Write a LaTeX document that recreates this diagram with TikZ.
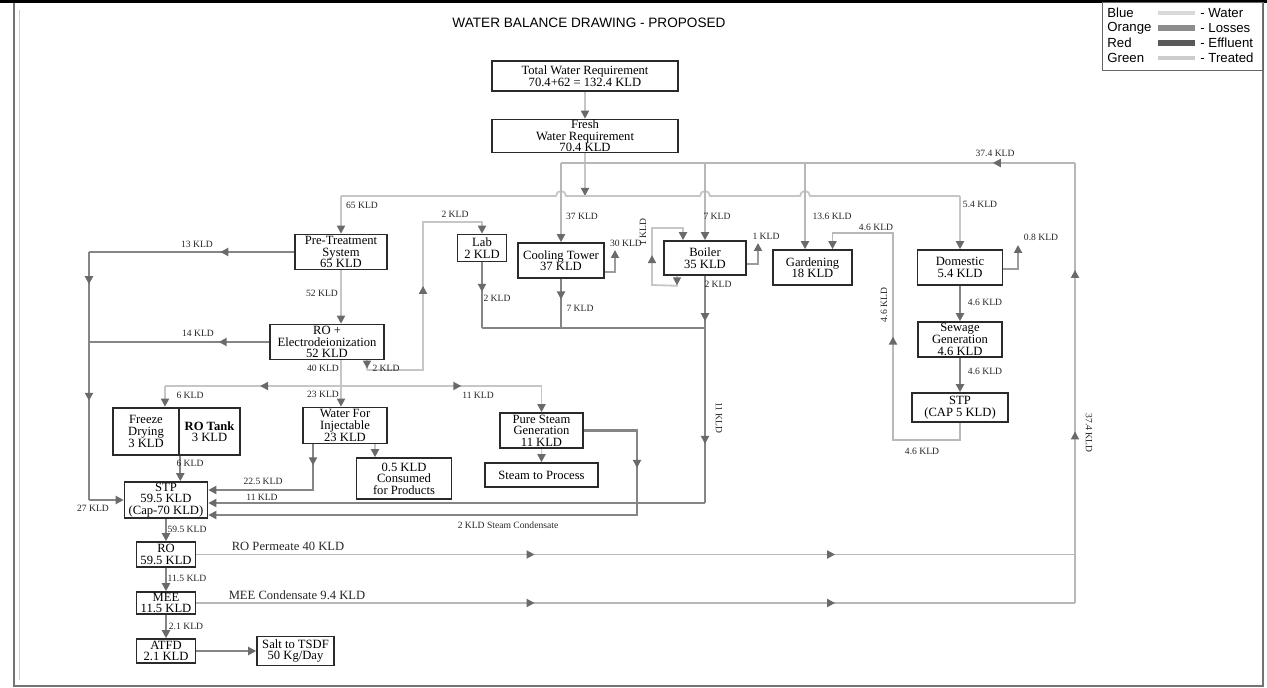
\documentclass[tikz,border=0pt]{standalone}
\usepackage{fontspec}
\setmainfont{Liberation Serif}
\setsansfont{Liberation Sans}
\usetikzlibrary{arrows.meta,decorations.markings,calc}
\definecolor{watc}{HTML}{C6C6C6}
\definecolor{trtc}{HTML}{B8B8B8}
\definecolor{effc}{HTML}{858585}
\definecolor{losc}{HTML}{9C9C9C}
\definecolor{arrc}{HTML}{6A6A6A}
\definecolor{boxc}{HTML}{2A2A2A}
\tikzset{
 box/.style={draw=boxc,line width=0.8pt,inner sep=0pt,align=center,fill=white,font=\fontsize{6.3}{5.8}\selectfont},
 lbl/.style={font=\fontsize{4.8}{5}\selectfont,inner sep=0.5pt,text=black!85},
 biglbl/.style={font=\fontsize{6.3}{6}\selectfont,inner sep=0.5pt,text=black!85},
 legt/.style={font=\sffamily\fontsize{6.6}{7}\selectfont,inner sep=0pt,anchor=west},
 wline/.style={draw=watc,line width=0.9pt},
 tline/.style={draw=trtc,line width=0.9pt},
 eline/.style={draw=effc,line width=1.1pt},
 lline/.style={draw=losc,line width=0.9pt},
 tip/.style={->},
 mk/.style={postaction={decorate,decoration={markings,mark=at position #1 with {\arrow{>}}}}},
}
\begin{document}
\begin{tikzpicture}[x=0.5pt,y=-0.5pt,>={Triangle[length=4pt,width=4pt,color=arrc]}]
\useasboundingbox (0,0) rectangle (1267,688);
% frame
\draw[black!55,line width=0.6pt] (14,2) -- (14,686) -- (1263,686) -- (1263,2);
\draw[black!20,line width=0.4pt] (19,10) -- (19,680);
\draw[black,line width=1.6pt] (0,1) -- (1267,1);

% title
\node[font=\sffamily\fontsize{6.8}{7}\selectfont,inner sep=0pt] (title) at (589,23) {WATER BALANCE DRAWING - PROPOSED};

% legend
\node[draw=black!60,line width=0.4pt,minimum width=80.5pt,minimum height=34pt,inner sep=0pt] (leg) at (1182.5,36) {};
\node[legt] (lg1) at (1107,13) {Blue};
\node[legt] (lg2) at (1107,28) {Orange};
\node[legt] (lg3) at (1107,43) {Red};
\node[legt] (lg4) at (1107,58) {Green};
\node[legt] (lr1) at (1200,13) {- Water};
\node[legt] (lr2) at (1200,28) {- Losses};
\node[legt] (lr3) at (1200,43) {- Effluent};
\node[legt] (lr4) at (1200,58) {- Treated};
\draw[line width=2.2pt,draw=black!15] (lg1.east -| 1158,0) -- (lg1.east -| 1195,0);
\draw[line width=2.6pt,draw=black!45] (lg2.east -| 1158,0) -- (lg2.east -| 1195,0);
\draw[line width=2.6pt,draw=black!65] (lg3.east -| 1158,0) -- (lg3.east -| 1195,0);
\draw[line width=2.2pt,draw=black!20] (lg4.east -| 1158,0) -- (lg4.east -| 1195,0);

% boxes
\node[box,minimum width=93pt,minimum height=15pt] (total) at (585,76) {Total Water Requirement\\70.4+62 = 132.4 KLD};
\node[box,minimum width=93pt,minimum height=16.5pt] (fresh) at (585,136) {Fresh\\Water Requirement\\70.4 KLD};
\node[box,minimum width=46pt,minimum height=17.5pt] (pre) at (341,252) {Pre-Treatment\\System\\65 KLD};
\node[box,minimum width=57pt,minimum height=17.5pt] (ro) at (327,342) {RO +\\Electrodeionization\\52 KLD};
\node[box,minimum width=24.5pt,minimum height=13.5pt] (lab) at (482,248) {Lab\\2 KLD};
\node[box,minimum width=43pt,minimum height=17.5pt] (ct) at (561,260.5) {Cooling Tower\\37 KLD};
\node[box,minimum width=41pt,minimum height=17pt] (boiler) at (705,258) {Boiler\\35 KLD};
\node[box,minimum width=39.5pt,minimum height=17.5pt] (gard) at (812.5,267.5) {Gardening\\18 KLD};
\node[box,minimum width=42.5pt,minimum height=17.5pt] (dom) at (960,267.5) {Domestic\\5.4 KLD};
\node[box,minimum width=42pt,minimum height=17.5pt] (sew) at (960,339.5) {Sewage\\Generation\\4.6 KLD};
\node[box,minimum width=48pt,minimum height=14.5pt] (stpf) at (960,407.5) {STP\\(CAP 5 KLD)};
\node[box,line width=1.3pt,minimum width=33pt,minimum height=23.5pt] (freeze) at (146,431.5) {Freeze\\Drying\\3 KLD};
\node[box,line width=1.3pt,minimum width=30.5pt,minimum height=23.5pt] (rotank) at (209.5,431.5) {\textbf{RO Tank}\\3 KLD};
\node[box,minimum width=42pt,minimum height=18pt] (wfi) at (345,425.5) {Water For\\Injectable\\23 KLD};
\node[box,minimum width=47.5pt,minimum height=20.5pt] (cons) at (404,478.5) {0.5 KLD\\Consumed\\for Products};
\node[box,minimum width=41.5pt,minimum height=17.5pt] (pure) at (541.5,430.5) {Pure Steam\\Generation\\11 KLD};
\node[box,minimum width=56.5pt,minimum height=12pt] (steam) at (541.5,475) {Steam to Process};
\node[box,minimum width=41.5pt,minimum height=18pt] (stp) at (166,500) {STP\\59.5 KLD\\(Cap-70 KLD)};
\node[box,minimum width=29.5pt,minimum height=12.5pt] (rob) at (166,554.5) {RO\\59.5 KLD};
\node[box,minimum width=29.5pt,minimum height=11pt] (mee) at (166,603) {MEE\\11.5 KLD};
\node[box,minimum width=29.5pt,minimum height=12pt] (atfd) at (166,651) {ATFD\\2.1 KLD};
\node[box,minimum width=38.5pt,minimum height=14.5pt] (salt) at (295.5,651) {Salt to TSDF\\50 Kg/Day};

% coordinates
\coordinate (rt) at (1075,163);
\coordinate (rb) at (1075,603);
\coordinate (rm) at (1075,554.5);
\coordinate (r0) at (561,163);
\coordinate (fj) at (585,196);
\coordinate (d0) at (341,196);
\coordinate (d1) at (960,196);
\coordinate (gv) at ($(gard.north)+(-7.5,0)$);
\coordinate (eL) at (89,252);
\coordinate (eLb) at (89,500);
\coordinate (sp) at (341,386);
\coordinate (spL) at (165,386);
\coordinate (spR) at (541.5,386);
\coordinate (lf1) at (367,370);
\coordinate (lf2) at (423,370);
\coordinate (lf3) at (423,222);
\coordinate (c1) at (482,328);
\coordinate (c2) at (705,328);
\coordinate (etp) at (705,503);
\coordinate (w1) at (313,490);
\coordinate (cv) at ($(wfi.south)+(30,0)$);
\coordinate (pc1) at (637,430.5);
\coordinate (pc2) at (637,515);
\coordinate (g1) at (960,440);
\coordinate (g2) at (893,440);
\coordinate (g3) at (893,233);
\coordinate (gin) at ($(gard.north)+(20,0)$);
\coordinate (bl0) at ($(boiler.south)+(-28,0)$);
\coordinate (bl1) at ($(bl0)+(0,10)$);
\coordinate (bl2) at (652,285);
\coordinate (bl3) at (652,228);
\coordinate (bl4) at ($(boiler.north)+(-22,0)$);
\coordinate (ctl) at ($(ct.south east)+(0,-7)$);
\coordinate (ctlo) at (615,250);
\coordinate (bll) at ($(boiler.south east)+(0,-12)$);
\coordinate (bllo) at (758,243);
\coordinate (dl) at ($(dom.south east)+(0,-17)$);
\coordinate (dlo) at (1018,245);

% fresh water
\draw[wline,tip] (total) -- (fresh);
\draw[wline,tip] (fresh) -- (fj);
% distribution line with hops
\draw[wline] (d0) -- (556,196) arc[start angle=180,end angle=360,radius=5] -- (700,196) arc[start angle=180,end angle=360,radius=5] -- ($(gv |- d0)+(-5,0)$) arc[start angle=180,end angle=360,radius=5] -- (d1);
\draw[wline,tip] (d0) -- (pre.north);
\draw[wline,tip] (d1) -- (dom.north);
% treated return
\draw[tline,mk=0.16] (rt) -- (r0);
\draw[tline,tip] (r0) -- (ct.north);
\draw[tline,tip] (boiler.north |- rt) -- (boiler.north);
\draw[tline,tip] (gv |- rt) -- (gv);
\draw[tline,mk=0.385,mk=0.727] (rob.east) -- (rm);
\draw[tline,mk=0.385,mk=0.727] (mee.east) -- (rb);
\draw[tline,mk=0.39,mk=0.757] (rb) -- (rt);
% treated STP to gardening
\draw[tline,mk=0.51,tip] (stpf.south) -- (g1) -- (g2) -- (g3) -- (gin |- g3) -- (gin);
% pre-treatment
\draw[eline,mk=0.36] (pre.west) -- (eL);
\draw[eline,mk=0.13,mk=0.6] (eL) -- (eLb);
\draw[eline,tip] (eLb) -- (stp.west);
\draw[eline,mk=0.28] (ro.west) -- (ro.west -| eL);
\draw[wline,tip] (pre.south) -- (pre.south |- ro.north);
% RO outputs
\draw[wline] (ro.south -| sp) -- (sp);
\draw[wline,tip] (sp) -- (sp |- wfi.north);
\draw[wline,mk=0.46] (sp) -- (spL);
\draw[wline,tip] (spL) -- (spL |- freeze.north);
\draw[wline,mk=0.6] (sp) -- (spR);
\draw[wline,tip] (spR) -- (pure.north);
% lab feed
\draw[wline,mk=0.85] (ro.south -| lf1) -- (lf1);
\draw[wline,mk=0.51,tip] (lf1) -- (lf2) -- (lf3) -- (lab.north |- lf3) -- (lab.north);
% lab, cooling tower, boiler effluent
\draw[eline,mk=0.45] (lab.south) -- (c1);
\draw[eline,mk=0.42] (ct.south) -- (ct.south |- c1);
\draw[eline] (c1) -- (c2);
\draw[eline,mk=0.2,mk=0.74] (boiler.south) -- (etp);
\draw[eline,tip] (etp) -- (etp -| stp.east);
% boiler loop
\draw[wline,mk=0.07,mk=0.48,tip] (bl0) -- (bl1) -- (bl2) -- (bl3) -- (bl3 -| bl4) -- (bl4);
% losses
\draw[lline,tip] (ctl) -- (ctl -| ctlo) -- (ctlo);
\draw[lline,tip] (bll) -- (bll -| bllo) -- (bllo);
\draw[lline,tip] (dl) -- (dl -| dlo) -- (dlo);
% WFI
\draw[eline,mk=0.14,tip] (wfi.south -| w1) -- (w1) -- (w1 -| stp.east);
\draw[wline,tip] (cv) -- (cv |- cons.north);
% pure steam
\draw[wline,tip] (pure.south) -- (steam.north);
\draw[eline,mk=0.16,tip] (pure.east) -- (pc1) -- (pc2) -- (pc2 -| stp.east);
% freeze drying
\draw[eline,tip] (freeze.south east) -- (freeze.south east |- stp.north);
% STP chain
\draw[eline,tip] (stp.south) -- (rob.north);
\draw[eline,tip] (rob.south) -- (mee.north);
\draw[eline,tip] (mee.south) -- (atfd.north);
\draw[eline,tip] (atfd.east) -- (salt.west);
% domestic chain
\draw[eline,tip] (dom.south) -- (sew.north);
\draw[eline,tip] (sew.south) -- (stpf.north);

% labels
\node[lbl] (t1) at (995,153) {37.4 KLD};
\node[lbl] (t2) at (362,205) {65 KLD};
\node[lbl] (t3) at (582,216) {37 KLD};
\node[lbl] (t4) at (717,216) {7 KLD};
\node[lbl] (t5) at (832,216) {13.6 KLD};
\node[lbl] (t6) at (980,204) {5.4 KLD};
\node[lbl] (t7) at (455,214) {2 KLD};
\node[lbl] (t8) at (626,243) {30 KLD};
\node[lbl,rotate=90] (t9) at (643,232) {1 KLD};
\node[lbl] (t10) at (766,236) {1 KLD};
\node[lbl] (t11) at (876,227) {4.6 KLD};
\node[lbl] (t12) at (1041,237) {0.8 KLD};
\node[lbl] (t13) at (197,244) {13 KLD};
\node[lbl] (t14) at (497,298) {2 KLD};
\node[lbl] (t15) at (580,308) {7 KLD};
\node[lbl] (t16) at (718,284) {2 KLD};
\node[lbl] (t17) at (322,293) {52 KLD};
\node[lbl,rotate=90] (t18) at (884,305) {4.6 KLD};
\node[lbl] (t19) at (985,302) {4.6 KLD};
\node[lbl] (t20) at (198,333) {14 KLD};
\node[lbl] (t21) at (323,368) {40 KLD};
\node[lbl] (t22) at (386,368) {2 KLD};
\node[lbl] (t23) at (985,371) {4.6 KLD};
\node[lbl] (t24) at (190,395) {6 KLD};
\node[lbl] (t25) at (323,394) {23 KLD};
\node[lbl] (t26) at (478,395) {11 KLD};
\node[lbl,rotate=-90] (t27) at (719,418) {11 KLD};
\node[lbl] (t28) at (922,451) {4.6 KLD};
\node[lbl] (t29) at (190,463) {6 KLD};
\node[lbl] (t30) at (263,481) {22.5 KLD};
\node[lbl] (t31) at (262,497) {11 KLD};
\node[lbl] (t32) at (93,508) {27 KLD};
\node[lbl] (t33) at (508,525) {2 KLD Steam Condensate};
\node[lbl] (t34) at (187,529) {59.5 KLD};
\node[lbl] (t35) at (187,578) {11.5 KLD};
\node[lbl] (t36) at (186,626) {2.1 KLD};
\node[lbl,rotate=-90] (t37) at (1089,433) {37.4 KLD};
\node[biglbl] (t38) at (288,546) {RO Permeate 40 KLD};
\node[biglbl] (t39) at (297,595) {MEE Condensate 9.4 KLD};
\end{tikzpicture}
\end{document}
